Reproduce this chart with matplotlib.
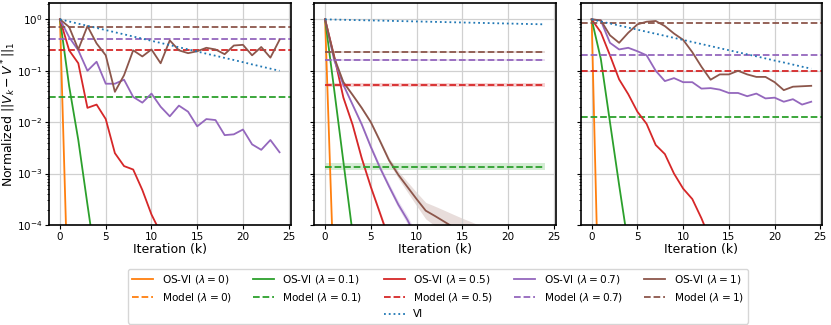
import matplotlib
matplotlib.use("Agg")
import matplotlib.pyplot as plt
import numpy as np
from matplotlib.lines import Line2D

LAMBDAS = ["0", "0.1", "0.5", "0.7", "1"]
COLORS = ["tab:orange", "tab:green", "tab:red", "tab:purple", "tab:brown"]

# ---- panel 1 ----
vi_1 = [1.0, 0.909, 0.825, 0.750, 0.681, 0.619, 0.562, 0.511, 0.464, 0.422, 0.383, 0.348,
        0.316, 0.287, 0.261, 0.237, 0.215, 0.196, 0.178, 0.162, 0.147, 0.133, 0.121, 0.110, 0.100]
osvi_1_l0 = [1.0, 7e-7, 1e-12]
osvi_1_l01 = [1.0, 0.05, 0.0045, 2.5e-4, 1.5e-5]
osvi_1_l05 = [1.0, 0.25, 0.14, 0.019, 0.022, 0.0115, 0.0025, 0.0014, 0.0012, 4.8e-4, 1.6e-4,
              7e-5, 2e-5]
osvi_1_l07 = [1.0, 0.45, 0.25, 0.10, 0.15, 0.056, 0.056, 0.067, 0.031, 0.024, 0.036, 0.020,
              0.013, 0.021, 0.016, 0.0083, 0.0115, 0.011, 0.0056, 0.0058, 0.0072, 0.0037,
              0.0029, 0.0045, 0.0026]
osvi_1_l1 = [1.0, 0.71, 0.26, 0.74, 0.34, 0.20, 0.039, 0.082, 0.25, 0.19, 0.26, 0.14, 0.39,
             0.25, 0.22, 0.24, 0.28, 0.26, 0.21, 0.31, 0.32, 0.20, 0.29, 0.18, 0.40]
model_1 = [1e-7, 0.031, 0.25, 0.42, 0.71]

# ---- panel 2 (averaged, with bands) ----
vi_2 = [1.0, 0.991, 0.982, 0.972, 0.963, 0.954, 0.946, 0.937, 0.928, 0.920, 0.911, 0.903,
        0.894, 0.886, 0.878, 0.870, 0.862, 0.854, 0.846, 0.838, 0.830, 0.823, 0.815, 0.808, 0.800]
osvi_2_l0 = [1.0, 5e-6, 1e-11]
osvi_2_l01 = [1.0, 0.042, 0.0017, 7e-5, 3e-6]
osvi_2_l05 = [1.0, 0.19, 0.030, 0.009, 0.002, 5.5e-4, 1.7e-4, 5.2e-5, 1.6e-5]
osvi_2_l07 = [1.0, 0.16, 0.053, 0.022, 0.0091, 0.0033, 0.0013, 5.6e-4, 2.5e-4, 1.26e-4,
              5.6e-5, 2.5e-5]
osvi_2_l1 = [1.0, 0.18, 0.060, 0.034, 0.019, 0.010, 0.0043, 0.0018, 9.5e-4, 5.5e-4, 3.2e-4,
             1.9e-4, 1.5e-4, 1.17e-4, 9.1e-5, 7.1e-5, 5.5e-5, 4.3e-5, 3.4e-5, 2.7e-5]
# band half-widths in decades
band_2_l05 = [0.0, 0.02, 0.03, 0.03, 0.04, 0.04, 0.05, 0.06, 0.06]
band_2_l07 = [0.0, 0.02, 0.03, 0.03, 0.04, 0.05, 0.05, 0.06, 0.07, 0.08, 0.09, 0.10]
band_2_l1 = [0.0, 0.02, 0.03, 0.03, 0.03, 0.03, 0.04, 0.05, 0.07, 0.10, 0.13, 0.16, 0.19,
             0.22, 0.25, 0.28, 0.32, 0.35, 0.38, 0.40]
model_2 = [1e-7, 0.00135, 0.053, 0.16, 0.23]
model_band_2 = [0.0, 0.07, 0.035, 0.02, 0.02]

# ---- panel 3 ----
vi_3 = [1.0, 0.912, 0.832, 0.759, 0.692, 0.631, 0.575, 0.525, 0.479, 0.437, 0.398, 0.363,
        0.331, 0.302, 0.275, 0.251, 0.229, 0.209, 0.191, 0.174, 0.158, 0.145, 0.132, 0.120, 0.110]
osvi_3_l0 = [1.0, 5e-8, 1e-14]
osvi_3_l01 = [1.0, 0.17, 0.010, 6e-4, 4e-5]
osvi_3_l05 = [1.0, 0.56, 0.20, 0.068, 0.035, 0.016, 0.0093, 0.0036, 0.0024, 0.0010, 5.1e-4,
              3.2e-4, 1.35e-4, 5e-5, 2e-5]
osvi_3_l07 = [1.0, 0.95, 0.35, 0.26, 0.28, 0.24, 0.20, 0.10, 0.063, 0.072, 0.060, 0.060,
              0.045, 0.046, 0.043, 0.037, 0.037, 0.032, 0.036, 0.029, 0.030, 0.025, 0.028,
              0.022, 0.025]
osvi_3_l1 = [1.0, 0.96, 0.49, 0.35, 0.55, 0.80, 0.90, 0.93, 0.74, 0.53, 0.40, 0.23, 0.12,
             0.067, 0.085, 0.085, 0.10, 0.085, 0.076, 0.076, 0.060, 0.042, 0.049, 0.050, 0.051]
model_3 = [1e-7, 0.0126, 0.10, 0.20, 0.85]

fig = plt.figure(figsize=(8.31, 3.25), dpi=100)
W, B, H = 0.2906, 0.3077, 0.682
ax1 = fig.add_axes([0.059, B, W, H])
ax2 = fig.add_axes([0.378, B, W, H])
ax3 = fig.add_axes([0.6988, B, W, H])


def draw_plain(ax, osvi, model, vi):
    for vals, m, c in zip(osvi, model, COLORS):
        ax.plot(np.arange(len(vals)), vals, color=c, lw=1.3)
        ax.axhline(m, color=c, ls="--", lw=1.3)
    ax.plot(np.arange(len(vi)), vi, color="tab:blue", ls=":", lw=1.3)


def draw_band(ax, osvi, bands, model, mbands, vi):
    for vals, bd, c in zip(osvi, bands, COLORS):
        k = np.arange(len(vals))
        v = np.array(vals)
        ax.plot(k, v, color=c, lw=1.3)
        if bd is not None:
            bd = np.array(bd)
            ax.fill_between(k, v / 10 ** bd, v * 10 ** bd, color=c, alpha=0.2, lw=0)
    kk = np.arange(25)
    for m, mb, c in zip(model, mbands, COLORS):
        ax.plot(kk, np.full(25, m), color=c, ls="--", lw=1.3)
        if mb > 0:
            ax.fill_between(kk, np.full(25, m / 10 ** mb), np.full(25, m * 10 ** mb),
                            color=c, alpha=0.2, lw=0)
    ax.plot(np.arange(len(vi)), vi, color="tab:blue", ls=":", lw=1.3)


draw_plain(ax1, [osvi_1_l0, osvi_1_l01, osvi_1_l05, osvi_1_l07, osvi_1_l1], model_1, vi_1)
draw_band(ax2, [osvi_2_l0, osvi_2_l01, osvi_2_l05, osvi_2_l07, osvi_2_l1],
          [None, None, band_2_l05, band_2_l07, band_2_l1], model_2, model_band_2, vi_2)
draw_plain(ax3, [osvi_3_l0, osvi_3_l01, osvi_3_l05, osvi_3_l07, osvi_3_l1], model_3, vi_3)

for ax in (ax1, ax2, ax3):
    ax.set_yscale("log")
    ax.set_ylim(1e-4, 2.05)
    ax.set_xlim(-1.2, 25.2)
    ax.set_xticks([0, 5, 10, 15, 20, 25])
    ax.grid(True, which="major", color="#d0d0d0", lw=0.9)
    ax.tick_params(labelsize=7.5, length=3, pad=2)
    ax.tick_params(which="minor", length=1.8)
    ax.set_xlabel("Iteration (k)", fontsize=9, labelpad=1)
    for s in ax.spines.values():
        s.set_linewidth(1.2)
for ax in (ax2, ax3):
    ax.tick_params(axis="y", which="both", labelleft=False)
ax1.set_ylabel(r"Normalized $||V_k - V^*||_1$", fontsize=9)
ax1.yaxis.set_label_coords(-0.128, 0.5)

# legend laid out as 5 columns x 3 rows, VI under the middle column
blank = Line2D([], [], alpha=0)
handles, labels = [], []
for i, (lam, c) in enumerate(zip(LAMBDAS, COLORS)):
    handles.append(Line2D([], [], color=c, lw=1.3))
    labels.append(r"OS-VI ($\lambda = %s$)" % lam)
    handles.append(Line2D([], [], color=c, lw=1.3, ls="--"))
    labels.append(r"Model ($\lambda = %s$)" % lam)
    if i == 2:
        handles.append(Line2D([], [], color="tab:blue", lw=1.3, ls=":"))
        labels.append("VI")
    else:
        handles.append(blank)
        labels.append("")
fig.legend(handles, labels, ncol=5, loc="center", bbox_to_anchor=(0.527, 0.089),
           fontsize=7.6, frameon=True)

fig.savefig("out.png", dpi=100)
